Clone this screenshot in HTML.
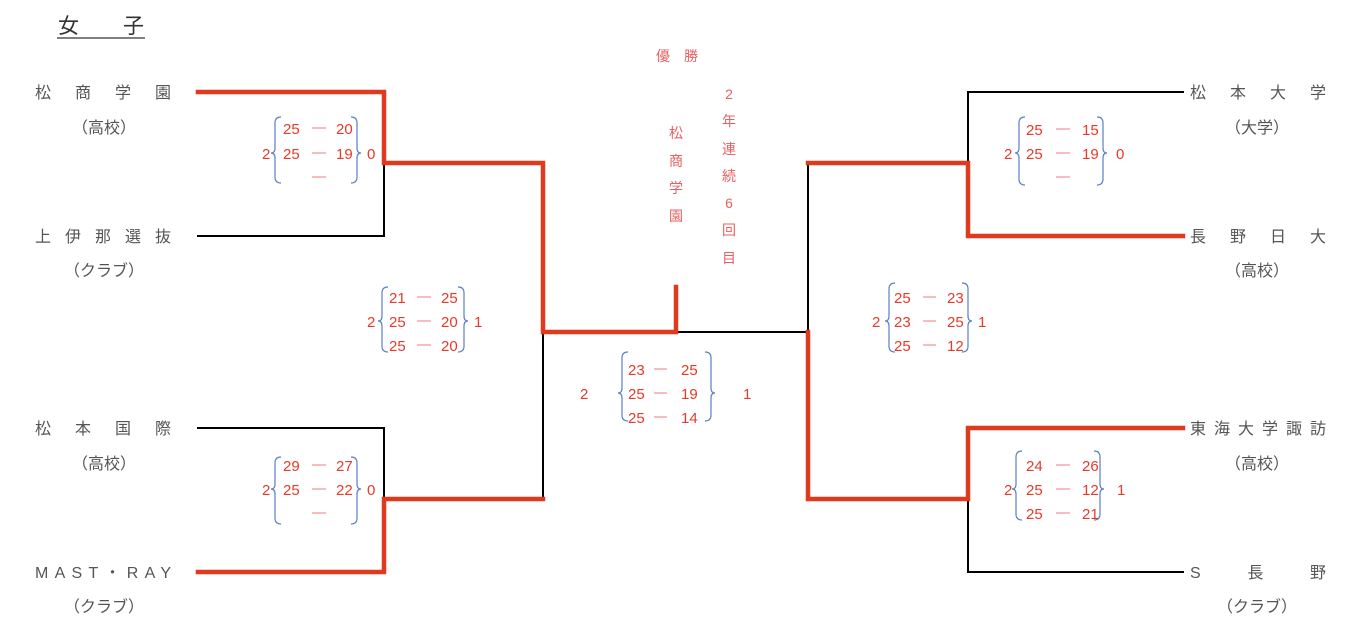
<!DOCTYPE html>
<html><head><meta charset="utf-8"><style>
body{margin:0;background:#fff}
svg text{font-family:"Liberation Sans","Noto Sans CJK JP",sans-serif}
.n{fill:#555;font-size:16px}
.s{fill:#e8392a;font-size:15px}
.d{stroke:#f4a8a8;stroke-width:1.5}
.b{fill:none;stroke:#5a7fc8;stroke-width:1.2}
.p{fill:#e86060;font-size:14px}
</style></head><body>
<svg width="1362" height="636" xmlns="http://www.w3.org/2000/svg">
<text x="58" y="33" style="font-size:21px;fill:#333" textLength="86" lengthAdjust="spacing">女　子</text>
<line x1="57" y1="38" x2="145" y2="38" stroke="#333" stroke-width="1.2"/>
<g fill="none" stroke-linecap="square">
<g stroke="#000" stroke-width="2">
<path d="M384 163V236H198"/><path d="M543 332V499"/><path d="M198 428H384V499"/>
<path d="M676 332H808V163"/><path d="M1183 92H968V163"/><path d="M968 499V572H1183"/>
</g>
<g stroke="#e03a1e" stroke-width="4.5">
<path d="M198 92H384V163H543V332H676V287"/>
<path d="M198 572H384V499H543"/>
<path d="M808 332V499H968V428H1183"/>
<path d="M808 163H968V236H1183"/>
</g>
</g>
<!-- names left -->
<text class="n" x="35" y="98" textLength="136" lengthAdjust="spacing">松商学園</text>
<text class="n" x="104" y="133" text-anchor="middle">（高校）</text>
<text class="n" x="35" y="242" textLength="136" lengthAdjust="spacing">上伊那選抜</text>
<text class="n" x="104" y="276" text-anchor="middle">（クラブ）</text>
<text class="n" x="35" y="434" textLength="136" lengthAdjust="spacing">松本国際</text>
<text class="n" x="104" y="469" text-anchor="middle">（高校）</text>
<text class="n" x="35" y="578" textLength="136" lengthAdjust="spacing">MAST・RAY</text>
<text class="n" x="104" y="612" text-anchor="middle">（クラブ）</text>
<!-- names right -->
<text class="n" x="1190" y="98" textLength="136" lengthAdjust="spacing">松本大学</text>
<text class="n" x="1257" y="133" text-anchor="middle">（大学）</text>
<text class="n" x="1190" y="242" textLength="136" lengthAdjust="spacing">長野日大</text>
<text class="n" x="1257" y="276" text-anchor="middle">（高校）</text>
<text class="n" x="1190" y="434" textLength="136" lengthAdjust="spacing">東海大学諏訪</text>
<text class="n" x="1257" y="469" text-anchor="middle">（高校）</text>
<text class="n" x="1190" y="578" textLength="136" lengthAdjust="spacing">S　長　野</text>
<text class="n" x="1257" y="612" text-anchor="middle">（クラブ）</text>
<!-- center -->
<text class="p" x="677" y="61" text-anchor="middle">優　勝</text>
<g class="p" text-anchor="middle">
<text x="676" y="138">松</text><text x="676" y="166">商</text><text x="676" y="193">学</text><text x="676" y="221">園</text>
<text x="729" y="99">2</text><text x="729" y="126">年</text><text x="729" y="154">連</text><text x="729" y="181">続</text><text x="729" y="208">6</text><text x="729" y="235">回</text><text x="729" y="263">目</text>
</g>
<!-- score blocks -->
<g id="blocks">
<!-- 1 -->
<path class="b" d="M281 117Q275 117 275 123V148Q275 153 271 153Q275 153 275 158V177Q275 183 281 183"/>
<path class="b" d="M351 117Q357 117 357 123V148Q357 153 361 153Q357 153 357 158V177Q357 183 351 183"/>
<g class="s"><text x="262" y="159">2</text><text x="367" y="159">0</text>
<text x="283" y="134">25</text><text x="336" y="134">20</text><text x="283" y="159">25</text><text x="336" y="159">19</text></g>
<path class="d" d="M312 128H326M312 153H326M312 177H326"/>
<!-- 2 -->
<path class="b" d="M388 287Q382 287 382 293V316Q382 321 378 321Q382 321 382 326V346Q382 352 388 352"/>
<path class="b" d="M458 287Q464 287 464 293V316Q464 321 468 321Q464 321 464 326V346Q464 352 458 352"/>
<g class="s"><text x="367" y="327">2</text><text x="474" y="327">1</text>
<text x="389" y="303">21</text><text x="441" y="303">25</text><text x="389" y="327">25</text><text x="441" y="327">20</text><text x="389" y="351">25</text><text x="441" y="351">20</text></g>
<path class="d" d="M417 297H431M417 321H431M417 345H431"/>
<!-- 3 -->
<path class="b" d="M281 457Q275 457 275 463V484Q275 489 271 489Q275 489 275 494V518Q275 524 281 524"/>
<path class="b" d="M351 457Q357 457 357 463V484Q357 489 361 489Q357 489 357 494V518Q357 524 351 524"/>
<g class="s"><text x="262" y="495">2</text><text x="367" y="495">0</text>
<text x="283" y="471">29</text><text x="336" y="471">27</text><text x="283" y="495">25</text><text x="336" y="495">22</text></g>
<path class="d" d="M312 465H326M312 489H326M312 513H326"/>
<!-- 4 center -->
<path class="b" d="M628 352Q622 352 622 358V388Q622 393 618 393Q622 393 622 398V415Q622 421 628 421"/>
<path class="b" d="M705 352Q711 352 711 358V388Q711 393 715 393Q711 393 711 398V415Q711 421 705 421"/>
<g class="s"><text x="580" y="399">2</text><text x="743" y="399">1</text>
<text x="628" y="375">23</text><text x="681" y="375">25</text><text x="628" y="399">25</text><text x="681" y="399">19</text><text x="628" y="423">25</text><text x="681" y="423">14</text></g>
<path class="d" d="M654 369H667M654 393H667M654 417H667"/>
<!-- 5 -->
<path class="b" d="M1025 117Q1019 117 1019 123V148Q1019 153 1015 153Q1019 153 1019 158V179Q1019 185 1025 185"/>
<path class="b" d="M1097 117Q1103 117 1103 123V148Q1103 153 1107 153Q1103 153 1103 158V179Q1103 185 1097 185"/>
<g class="s"><text x="1004" y="159">2</text><text x="1116" y="159">0</text>
<text x="1026" y="135">25</text><text x="1082" y="135">15</text><text x="1026" y="159">25</text><text x="1082" y="159">19</text></g>
<path class="d" d="M1056 129H1070M1056 153H1070M1056 177H1070"/>
<!-- 6 -->
<path class="b" d="M895 283Q889 283 889 289V316Q889 321 885 321Q889 321 889 326V346Q889 352 895 352"/>
<path class="b" d="M962 283Q968 283 968 289V316Q968 321 972 321Q968 321 968 326V346Q968 352 962 352"/>
<g class="s"><text x="872" y="327">2</text><text x="978" y="327">1</text>
<text x="894" y="303">25</text><text x="947" y="303">23</text><text x="894" y="327">23</text><text x="947" y="327">25</text><text x="894" y="351">25</text><text x="947" y="351">12</text></g>
<path class="d" d="M923 297H936M923 321H936M923 345H936"/>
<!-- 7 -->
<path class="b" d="M1022 451Q1016 451 1016 457V484Q1016 489 1012 489Q1016 489 1016 494V514Q1016 520 1022 520"/>
<path class="b" d="M1094 451Q1100 451 1100 457V484Q1100 489 1104 489Q1100 489 1100 494V514Q1100 520 1094 520"/>
<g class="s"><text x="1004" y="495">2</text><text x="1117" y="495">1</text>
<text x="1026" y="471">24</text><text x="1082" y="471">26</text><text x="1026" y="495">25</text><text x="1082" y="495">12</text><text x="1026" y="519">25</text><text x="1082" y="519">21</text></g>
<path class="d" d="M1056 465H1070M1056 489H1070M1056 513H1070"/>
</g>
</svg>
</body></html>
